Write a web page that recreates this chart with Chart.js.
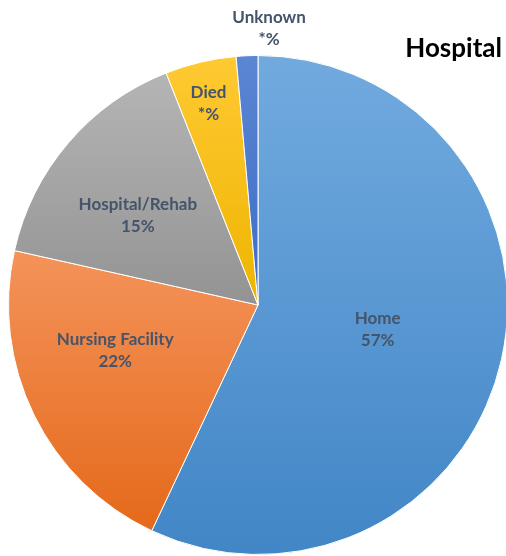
<!DOCTYPE html>
<html>
<head>
<meta charset="utf-8">
<script src="https://cdn.jsdelivr.net/npm/chart.js@4"></script>
<style>
  html, body { margin:0; padding:0; background:#fff; overflow:hidden; width:506px; height:556px; }
  #wrap { position:absolute; left:0; top:0; width:530px; height:580px; }
</style>
</head>
<body>
<div id="wrap"><canvas id="c"></canvas></div>
<script>
// ---- data ----
const categories = ["Home", "Nursing Facility", "Hospital/Rehab", "Died", "Unknown"];
const values = [57, 21.5, 15.5, 4.6, 1.4];
const valueLabels = ["57%", "22%", "15%", "*%", "*%"];
const chartTitle = "Hospital";

// ---- styles ----
const gradStops = [
  ["#72aadf", "#4186c6"],
  ["#f4935a", "#e5691a"],
  ["#b5b5b5", "#939393"],
  ["#ffc933", "#eeb500"],
  ["#5b86d4", "#3d6cc2"]
];
const flatColors = ["#5b9bd5", "#ed7d31", "#a5a5a5", "#ffc000", "#4472c4"];
// label placement: [fraction of radius, angle shift in degrees]
const labelPlace = [[0.49, -0.8], [0.6, 8.6], [0.6, -3.9], [0.83, -0.5], [1.11, 4.8]];
const labelFont = "bold 17px Lato";
const labelColor = "#44546a";

function sliceAngles(i) {
  const total = values.reduce((a, b) => a + b, 0);
  let acc = 0;
  for (let k = 0; k < i; k++) acc += values[k];
  const s = -Math.PI / 2 + acc / total * 2 * Math.PI;
  const e = s + values[i] / total * 2 * Math.PI;
  return [s, e];
}

function bg(ctx) {
  const chart = ctx.chart;
  const ca = chart.chartArea;
  const i = ctx.dataIndex;
  if (!ca) return flatColors[i];
  const cx = (ca.left + ca.right) / 2, cy = (ca.top + ca.bottom) / 2;
  const r = Math.min(ca.right - ca.left, ca.bottom - ca.top) / 2;
  const [s, e] = sliceAngles(i);
  let minY = cy, maxY = cy;
  for (let k = 0; k <= 40; k++) {
    const a = s + (e - s) * k / 40;
    const y = cy + r * Math.sin(a);
    minY = Math.min(minY, y); maxY = Math.max(maxY, y);
  }
  const g = chart.ctx.createLinearGradient(0, minY, 0, maxY);
  g.addColorStop(0, gradStops[i][0]);
  g.addColorStop(1, gradStops[i][1]);
  return g;
}

const labelPlugin = {
  id: 'sliceLabels',
  afterDatasetsDraw(chart) {
    const c = chart.ctx;
    const meta = chart.getDatasetMeta(0);
    c.save();
    c.font = labelFont;
    c.fillStyle = labelColor;
    c.textAlign = 'center';
    c.textBaseline = 'middle';
    meta.data.forEach((arc, i) => {
      const p = arc.getProps(['x', 'y', 'startAngle', 'endAngle', 'outerRadius'], true);
      const mid = (p.startAngle + p.endAngle) / 2 + labelPlace[i][1] * Math.PI / 180;
      const rr = p.outerRadius * labelPlace[i][0];
      const x = p.x + rr * Math.cos(mid);
      const y = p.y + rr * Math.sin(mid);
      c.fillText(categories[i], x, y - 11);
      c.fillText(valueLabels[i], x, y + 11);
    });
    c.font = "bold 26px Lato";
    c.fillStyle = "#000";
    c.textAlign = 'right';
    c.textBaseline = 'alphabetic';
    c.fillText(chartTitle, 502, 57);
    c.restore();
  }
};

new Chart(document.getElementById('c'), {
  type: 'pie',
  data: {
    labels: categories,
    datasets: [{
      data: values,
      backgroundColor: bg,
      borderColor: '#ffffff',
      borderWidth: 1
    }]
  },
  options: {
    responsive: true,
    maintainAspectRatio: false,
    animation: false,
    layout: { padding: { left: 8, top: 55, right: 22, bottom: 25 } },
    plugins: { legend: { display: false }, tooltip: { enabled: false }, title: { display: false } }
  },
  plugins: [labelPlugin]
});
</script>
</body>
</html>
